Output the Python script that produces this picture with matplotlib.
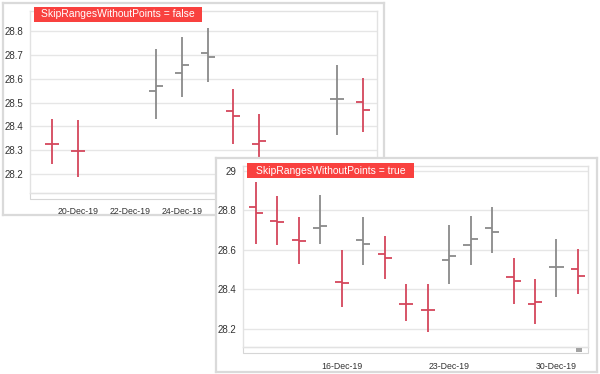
import matplotlib
matplotlib.use('Agg')
import matplotlib.pyplot as plt
import matplotlib.dates as mdates
from matplotlib.patches import Rectangle
import datetime

plt.rcParams['font.family'] = ['Liberation Sans', 'DejaVu Sans']

# trading days shown in the charts
dates = ['2019-12-10', '2019-12-11', '2019-12-12', '2019-12-13', '2019-12-16',
         '2019-12-17', '2019-12-18', '2019-12-19', '2019-12-20', '2019-12-23',
         '2019-12-24', '2019-12-25', '2019-12-26', '2019-12-27', '2019-12-30',
         '2019-12-31']
opens = [28.82, 28.745, 28.651, 28.712, 28.436, 28.651, 28.582, 28.328,
         28.298, 28.549, 28.626, 28.709, 28.464, 28.325, 28.515, 28.502]
highs = [28.946, 28.874, 28.769, 28.880, 28.599, 28.766, 28.672, 28.429,
         28.426, 28.724, 28.774, 28.815, 28.559, 28.453, 28.658, 28.603]
lows = [28.631, 28.623, 28.530, 28.631, 28.311, 28.523, 28.454, 28.242,
        28.187, 28.429, 28.523, 28.587, 28.325, 28.224, 28.363, 28.375]
closes = [28.786, 28.740, 28.645, 28.722, 28.431, 28.631, 28.560, 28.328,
          28.298, 28.571, 28.656, 28.690, 28.444, 28.337, 28.515, 28.468]

titles = ['SkipRangesWithoutPoints = false', 'SkipRangesWithoutPoints = true']

RED = '#d4475c'
GREY = '#8a8a8a'
LABEL_RED = '#f9413f'
W, H = 600, 374

fig = plt.figure(figsize=(6, 3.74), dpi=100)


def px_axes(x0, y0, x1, y1):
    return fig.add_axes([x0 / W, 1 - y1 / H, (x1 - x0) / W, (y1 - y0) / H])


def px_rect(ax, x0, y0, x1, y1, **kw):
    r = Rectangle((x0 / W, 1 - y1 / H), (x1 - x0) / W, (y1 - y0) / H,
                  transform=fig.transFigure, clip_on=False, **kw)
    ax.add_patch(r)


def panel(x0, y0, x1, y1):
    ax = px_axes(x0, y0, x1, y1)
    ax.set_xticks([])
    ax.set_yticks([])
    for s in ax.spines.values():
        s.set_color('#dadada')
        s.set_linewidth(1.6)
    return ax


def draw_ohlc(ax, xs, tick_w, start=0):
    prev = opens[max(start - 1, 0)] if start == 0 else closes[start - 1]
    rows = list(zip(xs, opens, highs, lows, closes))[start:]
    for x, o, h, l, c in rows:
        col = GREY if c > prev else RED
        prev = c
        ax.plot([x, x], [l, h], color=col, lw=1.3, solid_capstyle='butt')
        ax.plot([x - tick_w, x], [o, o], color=col, lw=1.3, solid_capstyle='butt')
        ax.plot([x, x + tick_w], [c, c], color=col, lw=1.3, solid_capstyle='butt')


def style_plot(ax):
    ax.set_facecolor('white')
    for s in ax.spines.values():
        s.set_color('#e2e2e2')
        s.set_linewidth(1.0)
    ax.grid(axis='y', color='#e6e6e6', lw=1.0)
    ax.set_axisbelow(True)
    ax.tick_params(axis='y', length=0, pad=5, labelsize=7, labelcolor='#333333')
    ax.tick_params(axis='x', length=0, labelsize=6.3, labelcolor='#333333')


# ---------------- back panel: calendar axis ----------------
panel(3, 3, 384, 215)
ax1 = px_axes(30, 11, 377, 193)
style_plot(ax1)
xs_cal = mdates.date2num([datetime.date.fromisoformat(d) for d in dates])
draw_ohlc(ax1, xs_cal, 0.27, start=7)
ax1.set_xlim(mdates.date2num(datetime.date(2019, 12, 18)) + 0.15,
             mdates.date2num(datetime.date(2019, 12, 31)) + 0.54)
ax1.set_ylim(28.12, 28.885)
ax1.set_yticks([28.2, 28.3, 28.4, 28.5, 28.6, 28.7, 28.8])
ax1.xaxis.set_major_locator(mdates.DayLocator(bymonthday=[20, 22, 24]))
ax1.xaxis.set_major_formatter(mdates.DateFormatter('%d-%b-%y'))
ax1.tick_params(axis='x', pad=10)
px_rect(ax1, 30, 193, 377, 199, facecolor='white', edgecolor='#d6d6d6', lw=0.8)
px_rect(ax1, 34, 7, 202, 22, facecolor=LABEL_RED, edgecolor='none', zorder=5)
ax1.text((118 - 30) / 347, (193 - 14.5) / 182, titles[0], transform=ax1.transAxes,
         ha='center', va='center', color='white', fontsize=7.5, zorder=6)

# ---------------- front panel: trading days only ----------------
panel(216, 158, 597, 372)
ax2 = px_axes(243, 166, 588, 347)
style_plot(ax2)
idx = list(range(len(dates)))
draw_ohlc(ax2, idx, 0.33)
ax2.set_xlim(-0.6, 15.47)
ax2.set_ylim(28.109, 29.025)
ax2.set_yticks([28.2, 28.4, 28.6, 28.8, 29.0])
ax2.set_yticklabels(['28.2', '28.4', '28.6', '28.8', '29'])
tick_idx = [4, 9, 14]
ax2.set_xticks(tick_idx)
ax2.set_xticklabels([datetime.date.fromisoformat(dates[i]).strftime('%d-%b-%y')
                     for i in tick_idx])
ax2.tick_params(axis='x', pad=11)
px_rect(ax2, 243, 347, 588, 353, facecolor='white', edgecolor='#d6d6d6', lw=0.8)
px_rect(ax2, 576, 348, 582, 352, facecolor='#a3a3a3', edgecolor='none', zorder=5)
px_rect(ax2, 247, 163, 414, 178, facecolor=LABEL_RED, edgecolor='none', zorder=5)
ax2.text((330.5 - 243) / 345, (347 - 170.5) / 181, titles[1], transform=ax2.transAxes,
         ha='center', va='center', color='white', fontsize=7.5, zorder=6)

fig.savefig('out.png', dpi=100)
